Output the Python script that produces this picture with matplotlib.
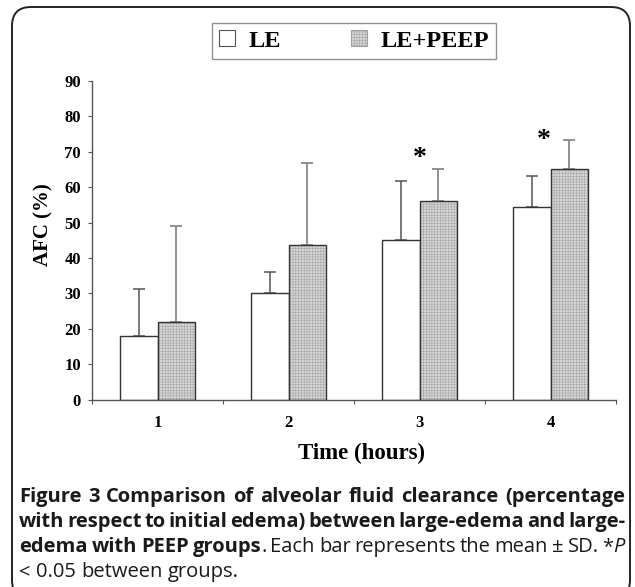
import numpy as np
import matplotlib
matplotlib.use('Agg')
import matplotlib.pyplot as plt
from matplotlib.patches import FancyBboxPatch, Patch

# ── data ──────────────────────────────────────────────────────────────────────
hours     = ['1', '2', '3', '4']
le_mean   = [18.0, 30.0, 45.0, 54.5]
le_sd     = [13.2, 6.0, 16.8, 8.7]
peep_mean = [22.0, 43.6, 56.1, 65.1]
peep_sd   = [27.0, 23.1, 9.0, 8.3]
star_x    = [3.0, 3.95]          # significant time points (*P < 0.05)
star_y    = [68.2, 73.1]

SERIF = 'Liberation Serif'
SANS  = 'Open Sans'
W, H  = 635, 587

plt.rcParams['hatch.linewidth'] = 0.35
fig = plt.figure(figsize=(W/100, H/100), dpi=100)

# rounded frame round the whole figure
frame = FancyBboxPatch((12/W, -12/H), 618/W, 587/H + 12/H - 7/H,
                       boxstyle='round,pad=0,rounding_size=0.03',
                       mutation_aspect=W/H,
                       transform=fig.transFigure, fill=False,
                       edgecolor='#222222', lw=1.4, clip_on=False)
fig.patches.append(frame)

ax = fig.add_axes([92/W, 1 - 399.5/H, 524/W, 318.5/H])

x  = np.arange(1, len(hours) + 1)
bw = 0.286
HATCH = '++++++'
hatch_kw = dict(facecolor='#d6d6d6', edgecolor='#a0a0a0', hatch=HATCH, lw=0)

ax.bar(x - bw/2, le_mean, width=bw, facecolor='white', edgecolor='#333333', lw=1.0, zorder=2)
ax.bar(x + bw/2, peep_mean, width=bw, zorder=2, **hatch_kw)
ax.bar(x + bw/2, peep_mean, width=bw, fill=False, edgecolor='#333333', lw=1.0, zorder=3)

ax.errorbar(x - bw/2, le_mean, yerr=[np.zeros(len(x)), le_sd], fmt='none',
            ecolor='#555555', elinewidth=1.1, capsize=4, capthick=1.1, zorder=1)
ax.errorbar(x + bw/2, peep_mean, yerr=[np.zeros(len(x)), peep_sd], fmt='none',
            ecolor='#888888', elinewidth=1.3, capsize=4, capthick=1.3, zorder=1)

for sx, sy in zip(star_x, star_y):
    ax.text(sx, sy, '*', ha='center', va='center', fontsize=20,
            fontweight='bold', family=SERIF)

ax.set_xlim(0.5, len(hours) + 0.5)
ax.set_ylim(0, 90)
ax.set_yticks(np.arange(0, 91, 10))
ax.set_xticks(np.arange(0.5, len(hours) + 1, 1.0))
ax.set_xticklabels([])
ax.set_xticks(x, minor=True)
ax.set_xticklabels(hours, minor=True)
ax.tick_params(axis='x', which='major', direction='out', length=3, color='#555555')
ax.tick_params(axis='x', which='minor', length=0, pad=11)
ax.tick_params(axis='y', direction='out', length=3, color='#555555', pad=5)
for lab in ax.get_yticklabels() + ax.get_xticklabels(minor=True):
    lab.set_family(SERIF); lab.set_fontweight('bold'); lab.set_fontsize(12)

for s in ['top', 'right']:
    ax.spines[s].set_visible(False)
for s in ['left', 'bottom']:
    ax.spines[s].set_color('#555555'); ax.spines[s].set_linewidth(1.0)

ax.set_ylabel('AFC (%)', family=SERIF, fontweight='bold', fontsize=15)
ax.yaxis.set_label_coords(-0.092, 0.55)
ax.yaxis.label.set_va('center')
ax.set_xlabel('Time (hours)', family=SERIF, fontweight='bold', fontsize=16.5)
ax.xaxis.set_label_coords(0.515, -0.168)
ax.xaxis.label.set_va('center')

# legend (top, boxed)
handles = [Patch(facecolor='white', edgecolor='#555555', lw=0.8),
           Patch(facecolor='#d6d6d6', edgecolor='#a0a0a0', hatch=HATCH, lw=0.8)]
leg = fig.legend(handles, ['LE', 'LE+PEEP'], loc='center',
                 bbox_to_anchor=(354/W, 1 - 41/H), ncol=2, fancybox=False,
                 frameon=True, edgecolor='#777777', handlelength=0.65,
                 handleheight=0.65, handletextpad=0.55, columnspacing=2.9,
                 borderpad=0.3, borderaxespad=0,
                 prop=dict(family=SERIF, weight='bold', size=17.5))
leg.get_frame().set_linewidth(1.0)

# ── caption (justified, mixed styles) ─────────────────────────────────────────
styles = {'b': dict(weight='bold', style='normal'),
          'r': dict(weight='normal', style='normal'),
          'i': dict(weight='normal', style='italic')}

def words(s, st):
    return [[(w, st)] for w in s.split()]

line3 = words('edema with PEEP', 'b') + [[('groups', 'b'), ('.', 'r')]] \
        + words('Each bar represents the mean ± SD.', 'r') + [[('*', 'r'), ('P', 'i')]]
cap_lines = [
    (words('Figure 3 Comparison of alveolar fluid clearance (percentage', 'b'), True),
    (words('with respect to initial edema) between large-edema and large-', 'b'), True),
    (line3, True),
    (words('< 0.05 between groups.', 'r'), False),
]
baselines = [502, 527, 552, 577]
x_left, x_right = 19, 625
renderer = fig.canvas.get_renderer()

# pick the caption size so that the first line fills the text width
probe = fig.text(0, 0, 'Figure 3 Comparison of alveolar fluid clearance (percentage',
                 family=SANS, fontsize=10, weight='bold')
cap_size = 10 * (x_right - x_left) / probe.get_window_extent(renderer).width * 0.985
probe.remove()

for (line, justify), yb in zip(cap_lines, baselines):
    objs, widths = [], []
    for word in line:
        pieces, wsum = [], 0.0
        for txt, st in word:
            t = fig.text(0, 1 - yb/H, txt, family=SANS, fontsize=cap_size,
                         va='baseline', ha='left', color='#1a1a1a', **styles[st])
            wpx = t.get_window_extent(renderer).width
            pieces.append((t, wpx)); wsum += wpx
        objs.append(pieces); widths.append(wsum)
    space = fig.text(0, 0, 'a b', family=SANS, fontsize=cap_size)
    sp = space.get_window_extent(renderer).width
    space.set_text('ab')
    sp -= space.get_window_extent(renderer).width
    space.remove()
    if justify and len(objs) > 1:
        sp = (x_right - x_left - sum(widths)) / (len(objs) - 1)
    xc = x_left
    for pieces, wsum in zip(objs, widths):
        xp = xc
        for t, wpx in pieces:
            t.set_x(xp/W); xp += wpx
        xc += wsum + sp

fig.savefig('out.png', dpi=100)
